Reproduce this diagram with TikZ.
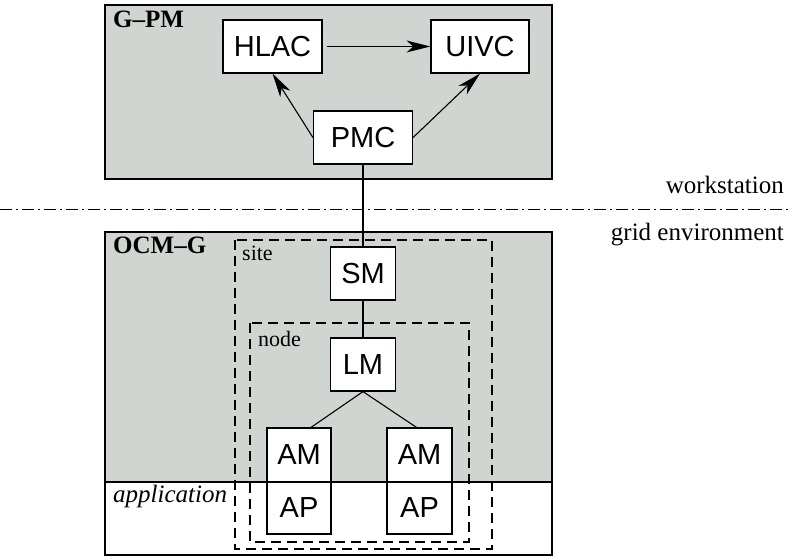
\documentclass[tikz,border=0pt]{standalone}
\usepackage{fontspec}
\setmainfont{Liberation Serif}
\setsansfont{Liberation Sans}
\usetikzlibrary{arrows.meta}
\definecolor{panelgray}{RGB}{209,213,209}
\tikzset{
    comp/.style={draw, line width=1.2pt, fill=white, inner sep=0pt,
        font=\sffamily\fontsize{29}{32}\selectfont, minimum height=53pt},
    lbl/.style={inner sep=0pt, font=\rmfamily\fontsize{25}{28}\selectfont},
    small lbl/.style={inner sep=0pt, font=\rmfamily\fontsize{22}{25}\selectfont},
    scopebox/.style={line width=1.1pt, dash pattern=on 10pt off 6pt},
    flow/.style={-{Stealth[length=24pt,width=12pt,inset=7pt]}, line width=1.1pt}
}
\begin{document}
\begin{tikzpicture}[x=1pt, y=-1pt]
        \useasboundingbox (0,0) rectangle (790,557);
        % panels
            \draw[line width=1.2pt, fill=panelgray] (105,5) rectangle (552,179);
            \fill[panelgray] (105,232) rectangle (552,482);
            \draw[line width=1.2pt] (105,232) rectangle (552,555);
            \draw[line width=1.2pt] (105,482) -- (552,482);
            \draw[line width=1pt, dash pattern=on 12pt off 4pt on 2pt off 4pt] (0,209) -- (790,209);
        % scopes
            \draw[scopebox] (235,240) rectangle (492,549);
            \draw[scopebox] (250,323) rectangle (469,542);
        % components
            \node[comp, minimum width=99pt] (HLAC) at (272.5,46.5) {HLAC};
            \node[comp, minimum width=98pt] (UIVC) at (480,46.5) {UIVC};
            \node[comp, minimum width=99pt] (PMC) at (363,137.5) {PMC};
            \node[comp, minimum width=65pt] (SM) at (363,273.5) {SM};
            \node[comp, minimum width=65pt] (LM) at (363,364.5) {LM};
            \node[comp, minimum width=64pt, minimum height=54pt] (AM1) at (299,455) {AM};
            \node[comp, minimum width=64pt, minimum height=52pt] (AP1) at (299,508) {AP};
            \node[comp, minimum width=65pt, minimum height=54pt] (AM2) at (419.5,455) {AM};
            \node[comp, minimum width=65pt, minimum height=52pt] (AP2) at (419.5,508) {AP};
        % connections
            \draw[flow, shorten <=4pt] (HLAC.east) -- (UIVC.west);
            \draw[flow] (PMC.west) -- (HLAC.south);
            \draw[flow] (PMC.east) -- (UIVC.south);
            \draw[line width=1.1pt] (PMC.south) -- (SM.north);
            \draw[line width=1.1pt] (SM.south) -- (LM.north);
            \draw[line width=1.1pt] (LM.south) -- ([xshift=12pt]AM1.north);
            \draw[line width=1.1pt] (LM.south) -- ([xshift=-3pt]AM2.north);
        % labels
            \node[lbl, anchor=base west] (gpm) at (113,27) {\bfseries G--PM};
            \node[lbl, anchor=base west] (ocmg) at (113,253) {\bfseries OCM--G};
            \node[lbl, anchor=base west] (app) at (113,502) {\itshape application};
            \node[small lbl, anchor=base west] (site) at (242,260) {site};
            \node[small lbl, anchor=base west] (nodelbl) at (258,346) {node};
            \node[lbl, anchor=base east] (ws) at (784,193) {workstation};
            \node[lbl, anchor=base east] (grid) at (784,240) {grid environment};
        \end{tikzpicture}
\end{document}
